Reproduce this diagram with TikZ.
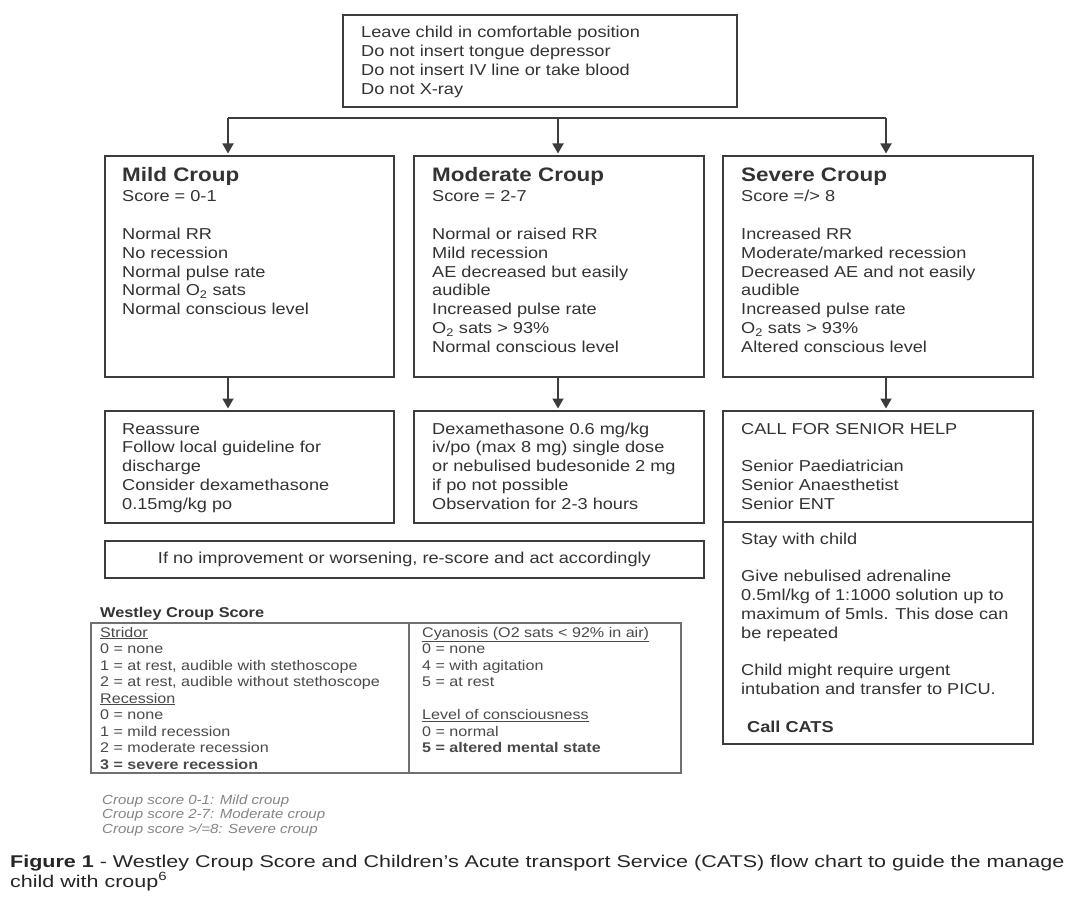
\documentclass[tikz,border=0pt]{standalone}
\usepackage{fontspec}
\setmainfont{Liberation Sans}[FakeStretch=1.15]
\newfontfamily\capfont{Liberation Sans}[FakeStretch=1.265]
\newfontfamily\notefont{Liberation Sans}[FakeStretch=1.14]
\usetikzlibrary{arrows.meta}
\definecolor{ink}{HTML}{333333}
\definecolor{edge}{HTML}{3C3C3C}
\definecolor{tbl}{HTML}{707070}
\definecolor{tink}{HTML}{4A4A4A}
\definecolor{note}{HTML}{858585}
\newcommand{\boxlines}[1]{\begin{tabular}[t]{@{}l@{}}#1\end{tabular}}
\begin{document}
\begin{tikzpicture}[x=1pt,y=-1pt,
  box/.style={draw=edge, line width=1.8pt, inner sep=0pt, anchor=north west},
  body/.style={inner sep=0pt, anchor=base west, text=ink, font=\fontsize{15.8}{18.8}\selectfont},
  ttl/.style={inner sep=0pt, anchor=base west, text=ink, font=\fontsize{19.5}{22}\selectfont\bfseries},
  tabtxt/.style={inner sep=0pt, anchor=base west, text=tink, font=\fontsize{14}{16.5}\selectfont},
  plain/.style={draw=edge, line width=1.8pt},
  arr/.style={draw=edge, line width=1.8pt, -{Triangle[width=11pt,length=10pt]}, shorten >=1.5pt}]
\useasboundingbox (0,0) rectangle (1065,901);
\fill[white] (0,0) rectangle (1065,901);

% boxes
\node[box, minimum width=394pt, minimum height=92pt] (top) at (342,14) {};
\node[box, minimum width=289pt, minimum height=221pt] (mild) at (104,155) {};
\node[box, minimum width=290pt, minimum height=221pt] (mod) at (413,155) {};
\node[box, minimum width=310pt, minimum height=221pt] (sev) at (722,155) {};
\node[box, minimum width=289pt, minimum height=112pt] (mildt) at (104,410) {};
\node[box, minimum width=290pt, minimum height=112pt] (modt) at (413,410) {};
\node[box, minimum width=310pt, minimum height=333pt] (sevt) at (722,410) {};
\draw[plain] (sevt.west |- 0,522) -- (sevt.east |- 0,522);
\node[box, minimum width=599pt, minimum height=37pt, text=ink, font=\fontsize{15.8}{18.8}\selectfont] (impr) at (104,540) {If no improvement or worsening, re-score and act accordingly};

% connectors
\coordinate (hl) at (228,118);
\coordinate (hm) at (558,118);
\coordinate (hr) at (886,118);
\draw[plain] (hl) -- (hr);
\draw[arr] (hl) -- (hl |- mild.north);
\draw[arr] (hm) -- (hm |- mod.north);
\draw[arr] (hr) -- (hr |- sev.north);
\draw[arr] (mild.south -| hl) -- (mildt.north -| hl);
\draw[arr] (mod.south -| hm) -- (modt.north -| hm);
\draw[arr] (sev.south -| hr) -- (sevt.north -| hr);

% texts
\node[body] (topx) at (361,38) {\boxlines{Leave child in comfortable position\\Do not insert tongue depressor\\Do not insert IV line or take blood\\Do not X-ray}};

\node[ttl] (mildh) at (122,182) {Mild Croup};
\node[body] (mildx) at (122,202) {\boxlines{Score = 0-1\\ \\Normal RR\\No recession\\Normal pulse rate\\Normal O\textsubscript{2} sats\\Normal conscious level}};

\node[ttl] (modh) at (432,182) {Moderate Croup};
\node[body] (modx) at (432,202) {\boxlines{Score = 2-7\\ \\Normal or raised RR\\Mild recession\\AE decreased but easily\\audible\\Increased pulse rate\\O\textsubscript{2} sats > 93\%\\Normal conscious level}};

\node[ttl] (sevh) at (741,182) {Severe Croup};
\node[body] (sevx) at (741,202) {\boxlines{Score =/> 8\\ \\Increased RR\\Moderate/marked recession\\Decreased AE and not easily\\audible\\Increased pulse rate\\O\textsubscript{2} sats > 93\%\\Altered conscious level}};

\node[body] (mildtx) at (122,434) {\boxlines{Reassure\\Follow local guideline for\\discharge\\Consider dexamethasone\\0.15mg/kg po}};
\node[body] (modtx) at (432,434) {\boxlines{Dexamethasone 0.6 mg/kg\\iv/po (max 8 mg) single dose\\or nebulised budesonide 2 mg\\if po not possible\\Observation for 2-3 hours}};
\node[body] (sevtx) at (741,434) {\boxlines{CALL FOR SENIOR HELP\\ \\Senior Paediatrician\\Senior Anaesthetist\\Senior ENT}};
\node[body] (sevty) at (741,544) {\boxlines{Stay with child\\ \\Give nebulised adrenaline\\0.5ml/kg of 1:1000 solution up to\\maximum of 5mls. This dose can\\be repeated\\ \\Child might require urgent\\intubation and transfer to PICU.}};
\node[body, font=\fontsize{15.8}{18.8}\selectfont\bfseries] (cats) at (747,732) {Call CATS};

% Westley table
\node[inner sep=0pt, anchor=base west, text=ink, font=\fontsize{14.2}{16.5}\selectfont\bfseries] (wtitle) at (100,617) {Westley Croup Score};
\node[draw=tbl, line width=1.5pt, inner sep=0pt, anchor=north west, minimum width=590pt, minimum height=150pt] (wtab) at (90,622) {};
\draw[draw=tbl, line width=1.5pt] (wtab.north -| 409,0) -- (wtab.south -| 409,0);
\node[tabtxt] (wl) at (100,637) {\boxlines{\underline{Stridor}\\0 = none\\1 = at rest, audible with stethoscope\\2 = at rest, audible without stethoscope\\\underline{Recession}\\0 = none\\1 = mild recession\\2 = moderate recession\\\textbf{3 = severe recession}}};
\node[tabtxt] (wr) at (422,637) {\boxlines{\underline{Cyanosis (O2 sats < 92\% in air)}\\0 = none\\4 = with agitation\\5 = at rest\\ \\\underline{Level of consciousness}\\0 = normal\\\textbf{5 = altered mental state}}};

% notes
\node[inner sep=0pt, anchor=base west, text=note, font=\notefont\fontsize{13.2}{14.6}\selectfont\itshape] (notes) at (102,804) {\boxlines{Croup score 0-1: Mild croup\\Croup score 2-7: Moderate croup\\Croup score >/=8: Severe croup}};

% caption
\node[inner sep=0pt, anchor=base west, text=black!85, font=\capfont\fontsize{17}{20}\selectfont] (cap1) at (10,867) {\textbf{Figure 1} - Westley Croup Score and Children’s Acute transport Service (CATS) flow chart to guide the manage};
\node[inner sep=0pt, anchor=base west, text=black!85, font=\capfont\fontsize{17}{20}\selectfont] (cap2) at (10,887) {child with croup\textsuperscript{6}};
\end{tikzpicture}
\end{document}
